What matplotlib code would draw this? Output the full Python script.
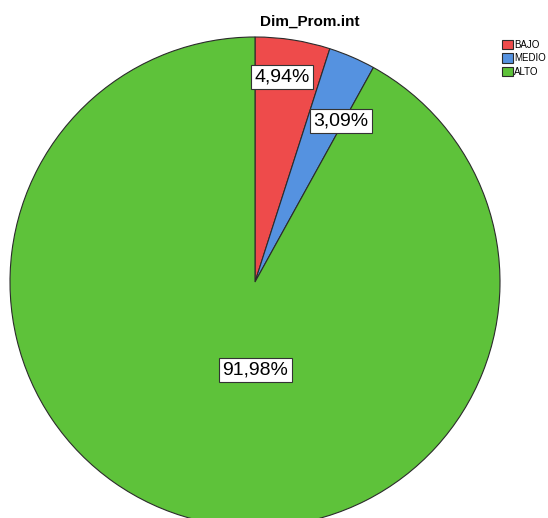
import numpy as np
import matplotlib.pyplot as plt

plt.rcParams['font.family'] = ['Liberation Sans', 'DejaVu Sans']

categorias = ['BAJO', 'MEDIO', 'ALTO']
porcentajes = [4.94, 3.09, 91.98]
colores = ['#ee4b4b', '#5592e0', '#5ec23a']
# posicion de cada etiqueta: (radio relativo, desplazamiento angular en grados)
pos_etiquetas = [(0.844, 1.4), (0.745, -4.75), (0.36, 14.5)]


def main():
    fig = plt.figure(figsize=(5.48, 5.18), dpi=100)
    W, H = 548, 518
    cx, cy, r = 255, 282, 245
    ax = fig.add_axes([(cx - r) / W, (H - cy - r) / H, 2 * r / W, 2 * r / H])

    wedges, _, autotexts = ax.pie(
        porcentajes, colors=colores, startangle=90, counterclock=False,
        autopct=lambda p: '', radius=1.0,
        wedgeprops=dict(edgecolor='#2b2b2b', linewidth=0.8))
    ax.set_xlim(-1, 1)
    ax.set_ylim(-1, 1)

    for w, t, val, (rr, dang) in zip(wedges, autotexts, porcentajes, pos_etiquetas):
        ang = np.deg2rad((w.theta1 + w.theta2) / 2 + dang)
        t.set_position((rr * np.cos(ang), rr * np.sin(ang)))
        t.set_text(('%.2f%%' % val).replace('.', ','))
        t.set_fontsize(14)
        t.set_ha('center')
        t.set_va('center')
        t.set_bbox(dict(boxstyle='square,pad=0.18', facecolor='white',
                        edgecolor='#333333', linewidth=0.8))

    fig.text(310 / W, 1 - 22 / H, 'Dim_Prom.int', ha='center', va='center',
             fontsize=11, fontweight='bold')

    fig.legend(wedges, categorias, loc='upper left',
               bbox_to_anchor=(500 / W, 1 - 38 / H), frameon=False,
               fontsize=7, handlelength=1.1, handleheight=1.1,
               handletextpad=0.15, labelspacing=0.35, borderpad=0.2,
               borderaxespad=0)

    fig.savefig('out.png', dpi=100)


if __name__ == '__main__':
    main()
